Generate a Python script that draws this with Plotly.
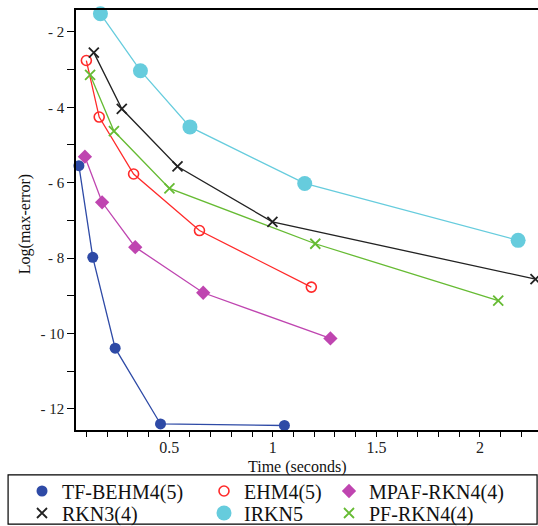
import plotly.graph_objects as go

names = ["TF-BEHM4(5)", "EHM4(5)", "MPAF-RKN4(4)", "RKN3(4)", "IRKN5", "PF-RKN4(4)"]
tf_x = [0.064, 0.131, 0.239, 0.458, 1.056]
tf_y = [-5.55, -7.98, -10.39, -12.40, -12.44]
ehm_x = [0.100, 0.162, 0.328, 0.646, 1.186]
ehm_y = [-2.76, -4.26, -5.77, -7.27, -8.77]
mpaf_x = [0.093, 0.176, 0.336, 0.664, 1.278]
mpaf_y = [-5.31, -6.52, -7.71, -8.92, -10.13]
rkn3_x = [0.136, 0.271, 0.540, 0.998, 2.268]
rkn3_y = [-2.55, -4.04, -5.57, -7.04, -8.56]
irkn_x = [0.168, 0.361, 0.600, 1.154, 2.184]
irkn_y = [-1.52, -3.03, -4.52, -6.02, -7.53]
pf_x = [0.118, 0.233, 0.501, 1.205, 2.088]
pf_y = [-3.14, -4.63, -6.15, -7.62, -9.13]

xticks = [0.5, 1, 1.5, 2]
xticktext = ["0.5", "1", "1.5", "2"]
yticks = [-2, -4, -6, -8, -10, -12]
yticktext = ["- 2", "- 4", "- 6", "- 8", "- 10", "- 12"]

W, H = 538, 526
serif = "Liberation Serif"

series = [
    (names[0], tf_x, tf_y, "#2E4AA6", dict(symbol="circle", size=11, color="#2E4AA6")),
    (names[1], ehm_x, ehm_y, "#FF2A2A", dict(symbol="circle-open", size=10, color="#FF2A2A", line=dict(width=1.6, color="#FF2A2A"))),
    (names[2], mpaf_x, mpaf_y, "#BF45B0", dict(symbol="diamond", size=11, color="#BF45B0")),
    (names[3], rkn3_x, rkn3_y, "#222222", dict(symbol="x-thin", size=10, color="#222222", line=dict(width=1.8, color="#222222"))),
    (names[4], irkn_x, irkn_y, "#66CCDD", dict(symbol="circle", size=15, color="#66CCDD")),
    (names[5], pf_x, pf_y, "#66BB33", dict(symbol="x-thin", size=10, color="#66BB33", line=dict(width=1.8, color="#66BB33"))),
]
# legend slot (left px of entry, row centre px)
col_left = [22, 204, 329]
row_y = [491, 513]

fig = go.Figure()
for name, xs, ys, col, mk in series:
    fig.add_trace(go.Scatter(x=xs, y=ys, mode="lines", line=dict(color=col, width=1.3),
                             showlegend=False, hoverinfo="skip"))
legends = {}
for i, (name, xs, ys, col, mk) in enumerate(series):
    key = "legend" if i == 0 else f"legend{i+1}"
    fig.add_trace(go.Scatter(x=xs, y=ys, mode="markers", marker=mk, name=name, legend=key,
                             cliponaxis=False))
    legends[key] = dict(xref="container", yref="container",
                        x=col_left[i % 3] / W, y=1 - row_y[i // 3] / H,
                        xanchor="left", yanchor="middle", orientation="v",
                        bgcolor="rgba(0,0,0,0)", borderwidth=0, itemwidth=30,
                        font=dict(family=serif, size=20, color="#111"))

fig.update_layout(
    width=W, height=H,
    margin=dict(l=76, r=0, t=10, b=96, autoexpand=False),
    paper_bgcolor="white", plot_bgcolor="white",
    font=dict(family=serif, color="#111"),
    xaxis=dict(range=[0.05, 2.28], tickvals=xticks, ticktext=xticktext, automargin=False,
               showline=True, linecolor="black", linewidth=1.5, mirror=True,
               ticks="outside", ticklen=5, tickcolor="black", showgrid=False, zeroline=False,
               ticklabelstandoff=-3,
               tickfont=dict(family=serif, size=16, color="#222"),
               minor=dict(ticks="outside", dtick=0.1, tick0=0, ticklen=5, tickcolor="black", showgrid=False)),
    yaxis=dict(range=[-12.56, -1.42], tickvals=yticks, ticktext=yticktext, automargin=False,
               showline=True, linecolor="black", linewidth=1.5, mirror=False,
               ticks="outside", ticklen=7, tickcolor="black", showgrid=False, zeroline=False,
               tickfont=dict(family=serif, size=15, color="#222"),
               minor=dict(ticks="outside", dtick=1, tick0=0, ticklen=7, tickcolor="black", showgrid=False)),
    annotations=[
        dict(text="Time (seconds)", xref="paper", yref="paper", x=(297 - 76) / 462, y=(430 - 467) / 420,
             xanchor="center", yanchor="middle", showarrow=False,
             font=dict(family=serif, size=16, color="#111")),
        dict(text="Log(max-error)", xref="paper", yref="paper", x=(25 - 76) / 462, y=0.49,
             xanchor="center", yanchor="middle", showarrow=False, textangle=-90,
             font=dict(family=serif, size=16, color="#111")),
    ],
    shapes=[dict(type="rect", xref="paper", yref="paper", x0=-0.147, x1=0.998, y0=-0.107, y1=-0.224,
                 line=dict(color="black", width=1.2), fillcolor="rgba(0,0,0,0)")],
    **legends,
)
fig.write_html("out.html", config={"displayModeBar": False},
               post_script="document.body.style.margin='0';document.body.style.overflow='hidden';")
